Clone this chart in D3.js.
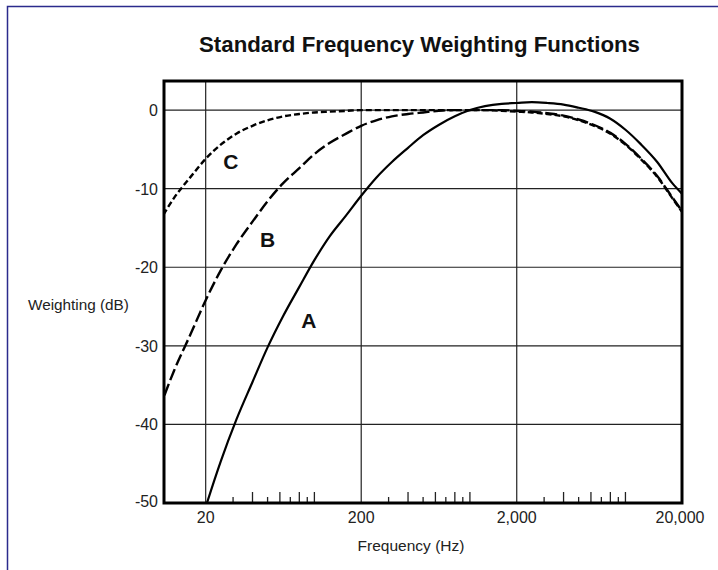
<!DOCTYPE html>
<html>
<head>
<meta charset="utf-8">
<script src="https://cdn.jsdelivr.net/npm/d3@7"></script>
<style>
  body { margin: 0; background: #fff; }
  svg { display: block; font-family: "Liberation Sans", Arial, sans-serif; }
</style>
</head>
<body>
<svg id="chart" width="718" height="570"></svg>
<script>
// frequencies (Hz) where the curves were read
const freqs = [10, 12.5, 16, 20, 25, 31.5, 40, 50, 63, 80, 100, 125, 160, 200, 250, 315, 400, 500, 630, 800,
               1000, 1250, 1600, 2000, 2500, 3150, 4000, 5000, 6300, 8000, 10000, 12500, 16000, 20000, 23000];
// weighting values (dB)
const weightA = [-70.4, -63.4, -56.7, -50.5, -44.7, -39.4, -34.6, -30.2, -26.2, -22.5, -19.1, -16.1, -13.4, -10.9, -8.6, -6.6, -4.8, -3.2, -1.9, -0.8,
                 0, 0.5, 0.8, 0.9, 1.0, 0.9, 0.7, 0.3, -0.2, -1.1, -2.5, -4.3, -6.6, -9.3, -10.6];
const weightB = [-38.2, -33.2, -28.5, -24.2, -20.4, -17.1, -14.2, -11.6, -9.3, -7.4, -5.6, -4.2, -3.0, -2.0, -1.3, -0.8, -0.5, -0.3, -0.1, 0,
                 0, 0, 0, -0.1, -0.2, -0.4, -0.7, -1.2, -1.9, -2.9, -4.3, -6.1, -8.4, -11.1, -12.8];
const weightC = [-14.3, -11.2, -8.5, -6.2, -4.4, -3.0, -2.0, -1.3, -0.8, -0.5, -0.3, -0.2, -0.1, 0, 0, 0, 0, 0, 0, 0,
                 0, 0, -0.1, -0.2, -0.3, -0.5, -0.8, -1.3, -2.0, -3.0, -4.4, -6.2, -8.5, -11.2, -12.9];

const xTicks = [20, 200, 2000, 20000];
const xTickLabels = ["20", "200", "2,000", "20,000"];
const yTicks = [0, -10, -20, -30, -40, -50];
const minorTallTicks = [40, 60, 80, 100, 400, 600, 800, 1000, 4000, 6000, 8000, 10000];
const minorShortTicks = [30, 50, 70, 90, 300, 500, 700, 900, 3000, 5000, 7000, 9000];

const curveLabels = [
    {name: "C", f: 29, v: -7.5},
    {name: "B", f: 50, v: -17.4},
    {name: "A", f: 92, v: -27.7}
];

const plot = {left: 164, top: 81, right: 682, bottom: 503};

const svg = d3.select("#chart");

// outer border (only top and left edges show in the frame)
svg.append("rect")
    .attr("x", 7.5).attr("y", 6.5)
    .attr("width", 730).attr("height", 600)
    .attr("fill", "none")
    .attr("stroke", "#2b2b8c")
    .attr("stroke-width", 1.5);

const x = d3.scaleLog()
    .domain([10.79, 23100])
    .range([plot.left, plot.right]);

const y = d3.scaleLinear()
    .domain([-50, 3.7])
    .range([plot.bottom, plot.top]);

// title
svg.append("text")
    .attr("x", 199).attr("y", 52)
    .attr("font-size", 21.5)
    .attr("font-weight", "bold")
    .attr("fill", "#111")
    .attr("textLength", 441)
    .attr("lengthAdjust", "spacingAndGlyphs")
    .text("Standard Frequency Weighting Functions");

// grid
const grid = svg.append("g").attr("stroke", "#222").attr("stroke-width", 1.2);
grid.selectAll("line.h")
    .data(yTicks.filter(d => d > -50))
    .join("line")
    .attr("class", "h")
    .attr("x1", plot.left).attr("x2", plot.right)
    .attr("y1", d => y(d)).attr("y2", d => y(d));
grid.selectAll("line.v")
    .data(xTicks.filter(d => d < 20000))
    .join("line")
    .attr("class", "v")
    .attr("y1", plot.top).attr("y2", plot.bottom)
    .attr("x1", d => x(d)).attr("x2", d => x(d));

// minor ticks along the bottom
const minor = svg.append("g").attr("stroke", "#222").attr("stroke-width", 1.3);
minor.selectAll("line.tall")
    .data(minorTallTicks)
    .join("line")
    .attr("class", "tall")
    .attr("x1", d => x(d)).attr("x2", d => x(d))
    .attr("y1", plot.bottom).attr("y2", plot.bottom - 11);
minor.selectAll("line.short")
    .data(minorShortTicks)
    .join("line")
    .attr("class", "short")
    .attr("x1", d => x(d)).attr("x2", d => x(d))
    .attr("y1", plot.bottom).attr("y2", plot.bottom - 6);

// curves
svg.append("clipPath").attr("id", "plotClip")
    .append("rect")
    .attr("x", plot.left).attr("y", plot.top)
    .attr("width", plot.right - plot.left).attr("height", plot.bottom - plot.top);

const line = d3.line()
    .x(d => x(d[0]))
    .y(d => y(d[1]))
    .curve(d3.curveMonotoneX);

const series = [
    {values: weightA, dash: null, width: 2.2},
    {values: weightB, dash: "12,4", width: 2.4},
    {values: weightC, dash: "6,3", width: 2.4}
];

svg.append("g")
    .attr("clip-path", "url(#plotClip)")
    .selectAll("path")
    .data(series)
    .join("path")
    .attr("d", s => line(freqs.map((f, i) => [f, s.values[i]])))
    .attr("fill", "none")
    .attr("stroke", "#000")
    .attr("stroke-width", s => s.width)
    .attr("stroke-dasharray", s => s.dash);

// curve names
svg.selectAll("text.curve")
    .data(curveLabels)
    .join("text")
    .attr("class", "curve")
    .attr("x", d => x(d.f))
    .attr("y", d => y(d.v))
    .attr("text-anchor", "middle")
    .attr("font-size", 21)
    .attr("font-weight", "bold")
    .attr("fill", "#111")
    .text(d => d.name);

// frame
svg.append("rect")
    .attr("x", plot.left).attr("y", plot.top)
    .attr("width", plot.right - plot.left).attr("height", plot.bottom - plot.top)
    .attr("fill", "none")
    .attr("stroke", "#000")
    .attr("stroke-width", 3);

// y labels
svg.selectAll("text.ytick")
    .data(yTicks)
    .join("text")
    .attr("class", "ytick")
    .attr("x", 158)
    .attr("y", d => d === -50 ? y(d) + 4 : y(d) + 6)
    .attr("text-anchor", "end")
    .attr("font-size", 16)
    .attr("fill", "#222")
    .text(d => d);

// x labels
svg.selectAll("text.xtick")
    .data(xTicks)
    .join("text")
    .attr("class", "xtick")
    .attr("x", (d, i) => i === xTicks.length - 1 ? plot.right - 2 : x(d))
    .attr("y", 523)
    .attr("text-anchor", "middle")
    .attr("font-size", 16)
    .attr("fill", "#222")
    .text((d, i) => xTickLabels[i]);

// axis titles
svg.append("text")
    .attr("x", 28).attr("y", 310)
    .attr("font-size", 15.3)
    .attr("fill", "#222")
    .text("Weighting (dB)");

svg.append("text")
    .attr("x", 411).attr("y", 551)
    .attr("text-anchor", "middle")
    .attr("font-size", 15.5)
    .attr("fill", "#222")
    .text("Frequency (Hz)");
</script>
</body>
</html>
